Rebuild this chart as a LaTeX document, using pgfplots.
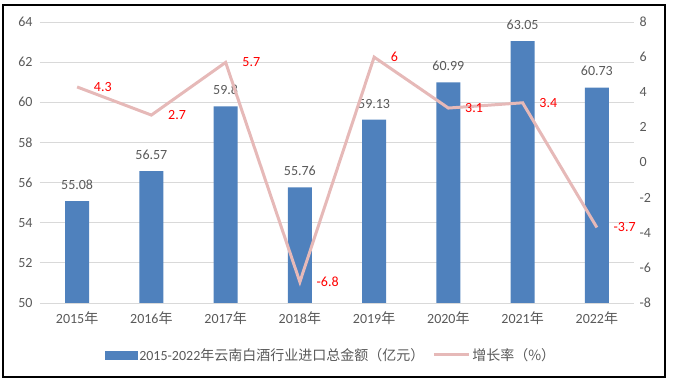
\documentclass[border=0pt]{standalone}
\usepackage{pgfplots}
\pgfplotsset{compat=1.18}
\usepackage{fontspec}
\setmainfont{Carlito}
\newfontfamily\cjk{Noto Sans CJK SC}
\definecolor{barblue}{HTML}{4F81BD}
\definecolor{linepink}{HTML}{E6B9B8}
\definecolor{txt}{HTML}{595959}
\definecolor{gridc}{HTML}{D9D9D9}
\newcommand\nian{{\cjk 年}}
\begin{document}
\begin{tikzpicture}
\pgfplotsset{
  base/.style={
    scale only axis, width=594pt, height=281pt, at={(0pt,0pt)}, anchor=south west,
    xmin=-0.5, xmax=7.5, axis line style={draw=none}, major tick length=0pt,
    font=\fontsize{14}{16}\selectfont, tick label style={text=txt},
    /pgf/number format/assume math mode=true,
  }
}
\begin{axis}[base, ybar, bar width=24pt,
  ymin=50, ymax=64, ytick={50,52,...,64},
  ymajorgrids, grid style={gridc, line width=0.8pt},
  xtick={0,...,7},
  xticklabels={2015\nian,2016\nian,2017\nian,2018\nian,2019\nian,2020\nian,2021\nian,2022\nian},
  xticklabel style={yshift=-5pt},
  yticklabel style={xshift=-4pt}]
\addplot[fill=barblue, draw=none, nodes near coords,
  nodes near coords style={text=txt, anchor=south, yshift=8pt}]
  coordinates {(0,55.08) (1,56.57) (2,59.8) (3,55.76) (4,59.13) (5,60.99) (6,63.05) (7,60.73)};
\end{axis}
\begin{axis}[base, ymin=-8, ymax=8, ytick={-8,-6,...,8},
  axis y line*=right, axis x line=none, yticklabel style={xshift=2pt},
  legend columns=2,
  legend style={at={(0.49,-0.185)}, anchor=center, draw=none, fill=none,
    text=txt, font=\fontsize{14}{16}\selectfont,
    /tikz/every even column/.append style={column sep=6pt}},
  legend cell align=left]
\addlegendimage{legend image code/.code={\fill[barblue] (0pt,-4pt) rectangle (32pt,4pt);}}
\addlegendentry{2015-2022{\cjk 年云南白酒行业进口总金额（亿元）}}
\addplot[linepink, line width=3pt, mark=none, nodes near coords,
  nodes near coords style={text=red, anchor=west, xshift=12pt},
  legend image code/.code={\draw[linepink, line width=3pt] (0pt,0pt) -- (35pt,0pt);}]
  coordinates {(0,4.3) (1,2.7) (2,5.7) (3,-6.8) (4,6) (5,3.1) (6,3.4) (7,-3.7)};
\addlegendentry{{\cjk 增长率（\%）}}
\end{axis}
\draw[black,line width=1.2pt] (-37pt,-74pt) rectangle (625pt,298pt);
\pgfresetboundingbox
\useasboundingbox (-40pt,-82pt) rectangle (634pt,303pt);
\end{tikzpicture}
\end{document}
